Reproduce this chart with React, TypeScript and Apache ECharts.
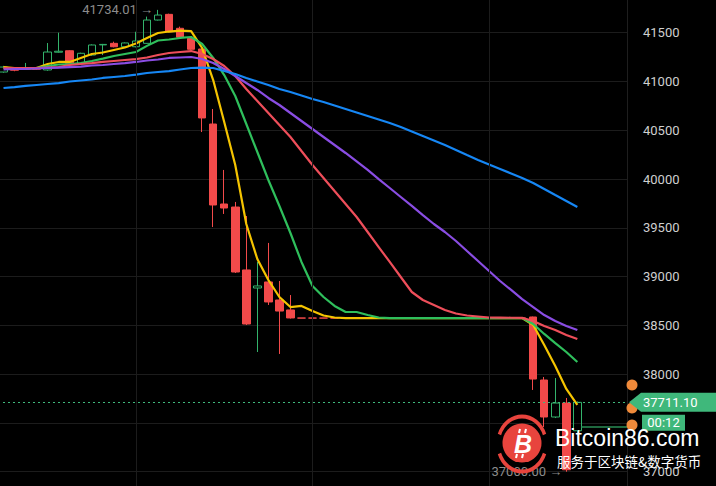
import React, { useEffect, useRef } from "react";
import * as echarts from "echarts";

const categories: string[] = Array.from({ length: 57 }, (_, i) => "K" + (i + 1));

// [open, close, low, high]
const candles: number[][] = [
  [41097, 41148, 41090, 41160],
  [41138, 41115, 41105, 41140],
  [41130, 41140, 41125, 41190],
  [41140, 41125, 41118, 41150],
  [41118, 41302, 41110, 41394],
  [41300, 41310, 41295, 41500],
  [41315, 41186, 41180, 41320],
  [41186, 41289, 41180, 41295],
  [41271, 41374, 41265, 41380],
  [41375, 41380, 41271, 41385],
  [41391, 41356, 41350, 41408],
  [41356, 41395, 41350, 41400],
  [41356, 41415, 41350, 41510],
  [41391, 41630, 41388, 41665],
  [41630, 41681, 41625, 41734.01],
  [41688, 41510, 41505, 41695],
  [41545, 41453, 41445, 41562],
  [41442, 41330, 41323, 41450],
  [41333, 40626, 40482, 41340],
  [40564, 39734, 39508, 40718],
  [39744, 39703, 39642, 40093],
  [39713, 39047, 39037, 39765],
  [39068, 38514, 38504, 39621],
  [38883, 38904, 38227, 39150],
  [38945, 38740, 38709, 39345],
  [38760, 38647, 38207, 38955],
  [38658, 38576, 38570, 38811],
  [38575, 38575, 38575, 38575],
  [38575, 38575, 38575, 38575],
  [38575, 38575, 38575, 38575],
  [38575, 38575, 38575, 38575],
  [38575, 38575, 38575, 38575],
  [38575, 38575, 38575, 38575],
  [38575, 38575, 38575, 38575],
  [38575, 38575, 38575, 38575],
  [38575, 38575, 38575, 38575],
  [38575, 38575, 38575, 38575],
  [38575, 38575, 38575, 38575],
  [38575, 38575, 38575, 38575],
  [38575, 38575, 38575, 38575],
  [38575, 38575, 38575, 38575],
  [38575, 38575, 38575, 38575],
  [38575, 38575, 38575, 38575],
  [38575, 38575, 38575, 38575],
  [38575, 38575, 38575, 38575],
  [38575, 38575, 38575, 38575],
  [38575, 38575, 38575, 38575],
  [38575, 38575, 38575, 38575],
  [38586, 37950, 37838, 38590],
  [37940, 37561, 37458, 37971],
  [37561, 37704, 37550, 37960],
  [37704, 37020, 37000, 37756],
  [37420, 37711.1, 37400, 37720],
];

const ma5: number[] = [
  41148, 41138, 41128, 41138, 41179, 41200, 41200, 41241, 41282, 41297,
  41323, 41348, 41389, 41446, 41497, 41512, 41522, 41517, 41343, 41015,
  40585, 40144, 39539, 39180, 38965, 38791, 38688, 38699, 38647, 38601,
  38581, 38575, 38575, 38575, 38575, 38575, 38575, 38575, 38575, 38575,
  38575, 38575, 38575, 38575, 38575, 38575, 38575, 38575, 38504, 38299,
  38084, 37848, 37684,
];

const ma10: number[] = [
  41138, 41138, 41138, 41138, 41159, 41174, 41179, 41189, 41210, 41235,
  41261, 41282, 41302, 41365, 41420, 41430, 41446, 41456, 41384, 41241,
  41066, 40851, 40564, 40277, 39990, 39724, 39447, 39150, 38904, 38791,
  38699, 38637, 38637, 38606, 38581, 38575, 38575, 38575, 38575, 38575,
  38575, 38575, 38575, 38575, 38575, 38575, 38575, 38575, 38514, 38412,
  38319, 38227, 38125,
];

const ma20: number[] = [
  41138, 41138, 41138, 41138, 41143, 41148, 41169, 41179, 41189, 41200,
  41210, 41220, 41230, 41246, 41271, 41292, 41302, 41312, 41282, 41230,
  41159, 41056, 40923, 40800, 40677, 40554, 40431, 40287, 40144, 40011,
  39877, 39744, 39611, 39457, 39303, 39150, 38996, 38842, 38760, 38709,
  38658, 38622, 38601, 38591, 38581, 38580, 38578, 38577, 38545, 38494,
  38453, 38401, 38360,
];

const ma30: number[] = [
  41123, 41128, 41128, 41133, 41138, 41143, 41148, 41153, 41164, 41169,
  41179, 41189, 41200, 41215, 41225, 41241, 41246, 41251, 41230, 41189,
  41128, 41056, 40984, 40913, 40831, 40759, 40677, 40595, 40513, 40431,
  40349, 40267, 40180, 40093, 40000, 39908, 39816, 39724, 39631, 39539,
  39457, 39365, 39262, 39160, 39057, 38955, 38863, 38770, 38688, 38606,
  38545, 38494, 38453,
];

const ma60: number[] = [
  40933, 40943, 40954, 40964, 40974, 40984, 41000, 41010, 41020, 41036,
  41046, 41056, 41071, 41087, 41097, 41107, 41123, 41138, 41143, 41138,
  41107, 41077, 41036, 41000, 40964, 40923, 40892, 40856, 40820, 40790,
  40754, 40718, 40682, 40646, 40610, 40574, 40533, 40487, 40441, 40395,
  40349, 40298, 40246, 40195, 40149, 40103, 40057, 40011, 39959, 39898,
  39836, 39775, 39713,
];

const timeGridIndex: number[] = [12, 28, 44];
const hiddenTicks: number[] = [36500, 37500, 42000];
const lastPrice = 37711.1;
const countdown = "00:12";
const highIndex = 14;
const highPrice = 41734.01;
const lowIndex = 51;
const lowPrice = 37000.0;
const alertPrices: number[] = [37889, 37653, 37479];
const askDepthPrices: number[] = [37905, 37885, 37870, 37852, 37832];
const bidDepthPrices: number[] = [37692, 37676, 37662, 37648];
const bidWallPrice = 37458;

const RED = "#f24a4a";
const GREEN = "#33b36b";
const TAG = "#3fb87b";

export default function App() {
  const ref = useRef<HTMLDivElement>(null);
  useEffect(() => {
    const el = ref.current!;
    const chart = echarts.init(el, null, { renderer: "svg" });
    const lineSeries = (name: string, data: number[], color: string) => ({
      name,
      type: "line",
      data,
      showSymbol: false,
      symbol: "none",
      silent: true,
      lineStyle: { color, width: 2.2 },
      z: 3,
    });
    chart.setOption({
      animation: false,
      backgroundColor: "#000",
      grid: {
        left: -2,
        right: 89,
        top: -16.08,
        bottom: -34.5,
        containLabel: false,
        outerBoundsMode: "none",
      },
      xAxis: {
        type: "category",
        data: categories,
        boundaryGap: true,
        axisLine: { show: false },
        axisTick: { show: false },
        axisLabel: { show: false },
        splitLine: { show: false },
      },
      yAxis: {
        type: "value",
        position: "right",
        min: 36500,
        max: 42000,
        interval: 500,
        axisLine: { show: true, lineStyle: { color: "#1e1e1e", width: 1 } },
        axisTick: { show: false },
        axisLabel: {
          color: "#cfcfcf",
          fontSize: 13,
          fontFamily: "Roboto",
          margin: 16,
          formatter: (v: number) => (hiddenTicks.indexOf(v) >= 0 ? "" : String(v)),
        },
        splitLine: { lineStyle: { color: "#1c1c1c", width: 1 } },
      },
      series: [
        {
          type: "candlestick",
          data: candles,
          barWidth: 8,
          silent: true,
          itemStyle: {
            color: "rgba(0,0,0,0)",
            color0: RED,
            borderColor: GREEN,
            borderColor0: RED,
            borderColorDoji: RED,
            borderWidth: 1,
          },
          markLine: {
            silent: true,
            symbol: "none",
            label: { show: false },
            data: [
              ...timeGridIndex.map((i) => ({
                xAxis: i,
                lineStyle: { color: "#1c1c1c", width: 1, type: "solid" },
              })),
              {
                yAxis: lastPrice,
                lineStyle: { color: TAG, width: 1, type: [2, 3] },
              },
            ],
          },
        },
        lineSeries("MA5", ma5, "#f5c400"),
        lineSeries("MA10", ma10, "#2fbf5c"),
        lineSeries("MA20", ma20, "#ee4e5a"),
        lineSeries("MA30", ma30, "#8a4de3"),
        lineSeries("MA60", ma60, "#1687f5"),
      ],
    });

    const px = (i: number, v: number) =>
      chart.convertToPixel({ gridIndex: 0 }, [categories[i], v]) as number[];
    const W = el.clientWidth;
    const axisX = W - 89;
    const pHigh = px(highIndex, highPrice);
    const pLow = px(lowIndex, lowPrice);
    const yLast = px(0, lastPrice)[1];
    const Z = 50;
    const graphics: any[] = [];

    askDepthPrices.forEach((v, k) => {
      const y = px(0, v)[1];
      graphics.push({
        type: "line",
        z: Z,
        shape: { x1: axisX - 60 + k * 4, y1: y, x2: axisX, y2: y },
        style: {
          stroke: new echarts.graphic.LinearGradient(0, 0, 1, 0, [
            { offset: 0, color: "rgba(180,50,50,0)" },
            { offset: 1, color: "rgba(200,70,70,0.75)" },
          ]),
          lineWidth: 1.5,
        },
      });
    });
    bidDepthPrices.forEach((v, k) => {
      const y = px(0, v)[1];
      graphics.push({
        type: "line",
        z: Z,
        shape: { x1: axisX - 50 + k * 6, y1: y, x2: axisX, y2: y },
        style: {
          stroke: new echarts.graphic.LinearGradient(0, 0, 1, 0, [
            { offset: 0, color: "rgba(40,150,80,0)" },
            { offset: 1, color: "rgba(50,180,100,0.8)" },
          ]),
          lineWidth: 1.5,
        },
      });
    });
    {
      const y = px(0, bidWallPrice)[1];
      const x1 = px(52, bidWallPrice)[0] + 4;
      graphics.push({
        type: "line",
        z: Z,
        shape: { x1, y1: y, x2: axisX, y2: y },
        style: { stroke: "#2a8c55", lineWidth: 1.5 },
      });
    }

    graphics.push({
      type: "text",
      z: Z,
      x: pHigh[0] - 5,
      y: pHigh[1],
      style: {
        text: highPrice.toFixed(2) + " →",
        fill: "#8c8c8c",
        fontSize: 13,
        fontFamily: "Roboto",
        align: "right",
        verticalAlign: "middle",
      },
    });
    graphics.push({
      type: "text",
      z: Z,
      x: pLow[0] - 4,
      y: pLow[1],
      style: {
        text: lowPrice.toFixed(2) + " →",
        fill: "#8c8c8c",
        fontSize: 13,
        fontFamily: "Roboto",
        align: "right",
        verticalAlign: "middle",
      },
    });

    alertPrices.forEach((v) => {
      const y = px(0, v)[1];
      graphics.push({
        type: "circle",
        z: Z + 1,
        shape: { cx: axisX + 5, cy: y, r: 5.5 },
        style: { fill: "#f08a3a" },
      });
    });

    graphics.push({
      type: "polygon",
      z: Z + 2,
      shape: {
        points: [
          [axisX + 2, yLast],
          [axisX + 14, yLast - 9.5],
          [W, yLast - 9.5],
          [W, yLast + 9.5],
          [axisX + 14, yLast + 9.5],
        ],
      },
      style: { fill: TAG },
    });
    graphics.push({
      type: "text",
      z: Z + 3,
      x: axisX + 16,
      y: yLast,
      style: {
        text: lastPrice.toFixed(2),
        fill: "#ffffff",
        fontSize: 13,
        fontFamily: "Roboto",
        align: "left",
        verticalAlign: "middle",
      },
    });
    graphics.push({
      type: "rect",
      z: Z + 2,
      shape: { x: axisX + 15, y: yLast + 12.5, width: 43, height: 16 },
      style: { fill: TAG },
    });
    graphics.push({
      type: "text",
      z: Z + 3,
      x: axisX + 36.5,
      y: yLast + 20.5,
      style: {
        text: countdown,
        fill: "#ffffff",
        fontSize: 13,
        fontFamily: "Roboto",
        align: "center",
        verticalAlign: "middle",
      },
    });

    const cx = 522;
    const cy = 444;
    const LOGO = "#e8443d";
    [
      [200, 340],
      [20, 160],
    ].forEach((a) =>
      graphics.push({
        type: "arc",
        z: Z + 4,
        originX: cx,
        originY: cy,
        scaleY: 1.15,
        shape: { cx, cy, r: 24, startAngle: (a[0] * Math.PI) / 180, endAngle: (a[1] * Math.PI) / 180 },
        style: { stroke: LOGO, lineWidth: 3.5, fill: "none" },
      })
    );
    graphics.push({
      type: "circle",
      z: Z + 4,
      shape: { cx, cy: cy - 1, r: 19.5 },
      style: { fill: LOGO },
    });
    graphics.push({
      type: "text",
      z: Z + 5,
      x: cx + 1,
      y: cy,
      style: {
        text: "B",
        fill: "#ffffff",
        fontSize: 25,
        fontWeight: "bold",
        fontStyle: "italic",
        fontFamily: "Liberation Sans",
        align: "center",
        verticalAlign: "middle",
      },
    });
    [
      [cx - 2, cy - 15, cx - 3, cy - 11],
      [cx + 4, cy - 15, cx + 3, cy - 11],
      [cx - 5, cy + 10, cx - 6, cy + 14],
      [cx + 1, cy + 10, cx, cy + 14],
    ].forEach((s) =>
      graphics.push({
        type: "line",
        z: Z + 5,
        shape: { x1: s[0], y1: s[1], x2: s[2], y2: s[3] },
        style: { stroke: "#ffffff", lineWidth: 2 },
      })
    );
    graphics.push({
      type: "text",
      z: Z + 5,
      x: 555,
      y: 438,
      style: {
        text: "Bitcoin86.com",
        fill: "#ffffff",
        fontSize: 23,
        fontFamily: "Liberation Sans",
        align: "left",
        verticalAlign: "middle",
      },
    });
    graphics.push({
      type: "text",
      z: Z + 5,
      x: 557,
      y: 461,
      style: {
        text: "服务于区块链&数字货币",
        fill: "#ffffff",
        fontSize: 13.5,
        fontFamily: "Noto Sans CJK SC",
        align: "left",
        verticalAlign: "middle",
      },
    });

    chart.setOption({ graphic: { elements: graphics } });
    return () => chart.dispose();
  }, []);
  return (
    <div
      ref={ref}
      style={{ position: "fixed", left: 0, top: 0, width: 716, height: 486, background: "#000" }}
    />
  );
}
